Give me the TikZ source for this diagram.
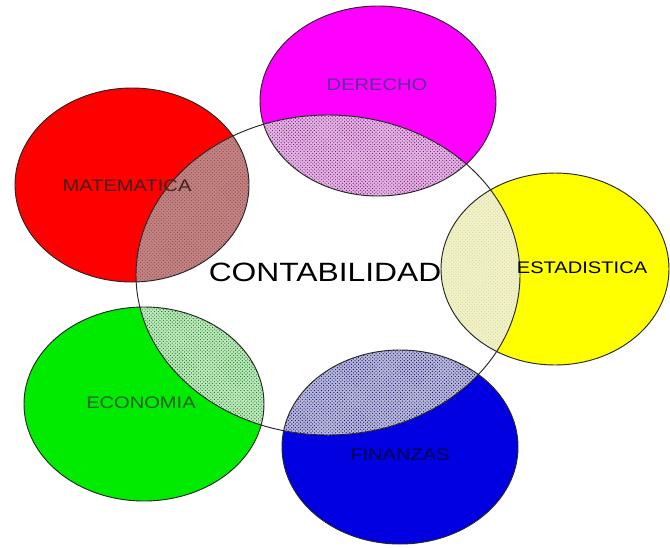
\documentclass[tikz,border=0pt]{standalone}
\usepackage{fontspec}
\usepackage{xcolor}
\usetikzlibrary{patterns}
\newfontfamily\labelfont[FakeStretch=1.2]{Liberation Sans}

\definecolor{dermag}{RGB}{255,0,255}
\definecolor{matred}{RGB}{255,0,0}
\definecolor{estyel}{RGB}{255,255,0}
\definecolor{ecogrn}{RGB}{0,235,0}
\definecolor{finblu}{RGB}{0,0,225}
\definecolor{dermix}{RGB}{226,182,226}
\definecolor{matmix}{RGB}{196,132,132}
\definecolor{matdot}{RGB}{135,70,70}
\definecolor{estmix}{RGB}{242,242,200}
\definecolor{ecomix}{RGB}{192,232,192}
\definecolor{finmix}{RGB}{184,184,216}

\begin{document}
\begin{tikzpicture}[
		x=0.03cm, y=-0.03cm,
		line width=0.8pt,
		rim/.style={draw=black!85},
		hatch/.style={pattern=crosshatch dots, pattern color=#1},
		area/.style={font=\labelfont\fontsize{14.3}{16}\selectfont, inner sep=0pt},
		title/.style={font=\labelfont\fontsize{22.6}{26}\selectfont, inner sep=0pt}
	]
	\useasboundingbox (0,0) rectangle (670,547);
	% centres
	\coordinate (conta) at (328,275);
	\coordinate (dere) at (378,101);
	\coordinate (mate) at (132,185);
	\coordinate (esta) at (555,269);
	\coordinate (econ) at (144,404);
	\coordinate (fina) at (400,447);

	% outer fields
	\fill[dermag] (dere) ellipse [x radius=118, y radius=95];
	\fill[matred] (mate) ellipse [x radius=117, y radius=97];
	\fill[estyel] (esta) ellipse [x radius=114, y radius=96];
	\fill[ecogrn] (econ) ellipse [x radius=120, y radius=97];
	\fill[finblu] (fina) ellipse [x radius=118, y radius=97];

	% overlaps with the centre
	\begin{scope}
		\clip (conta) ellipse [x radius=192, y radius=160];
		\fill[white] (conta) ellipse [x radius=192, y radius=160];
		\fill[dermix] (dere) ellipse [x radius=118, y radius=95];
		\fill[hatch=dermag!45!black] (dere) ellipse [x radius=118, y radius=95];
		\fill[matmix] (mate) ellipse [x radius=117, y radius=97];
		\fill[hatch=matdot] (mate) ellipse [x radius=117, y radius=97];
		\fill[estmix] (esta) ellipse [x radius=114, y radius=96];
		\fill[hatch=estyel!60!black!40] (esta) ellipse [x radius=114, y radius=96];
		\fill[ecomix] (econ) ellipse [x radius=120, y radius=97];
		\fill[hatch=ecogrn!50!black] (econ) ellipse [x radius=120, y radius=97];
		\fill[finmix] (fina) ellipse [x radius=118, y radius=97];
		\fill[hatch=finblu!50!black] (fina) ellipse [x radius=118, y radius=97];
	\end{scope}

	% outlines
	\draw[rim] (dere) ellipse [x radius=118, y radius=95];
	\draw[rim] (mate) ellipse [x radius=117, y radius=97];
	\draw[rim] (esta) ellipse [x radius=114, y radius=96];
	\draw[rim] (econ) ellipse [x radius=120, y radius=97];
	\draw[rim] (fina) ellipse [x radius=118, y radius=97];
	\draw[rim] (conta) ellipse [x radius=192, y radius=160];

	% labels
	\node[title] (contabilidad) at (325,272) {CONTABILIDAD};
	\node[area, text={rgb,255:red,92;green,46;blue,158}] (derecho) at (377,85) {DERECHO};
	\node[area, text={rgb,255:red,70;green,30;blue,30}] (matematica) at (127,186) {MATEMATICA};
	\node[area, text=black] (estadistica) at (582,268) {ESTADISTICA};
	\node[area, text={rgb,255:red,30;green,95;blue,30}] (economia) at (141,403) {ECONOMIA};
	\node[area, text={rgb,255:red,0;green,0;blue,80}] (finanzas) at (400,455) {FINANZAS};
\end{tikzpicture}
\end{document}
